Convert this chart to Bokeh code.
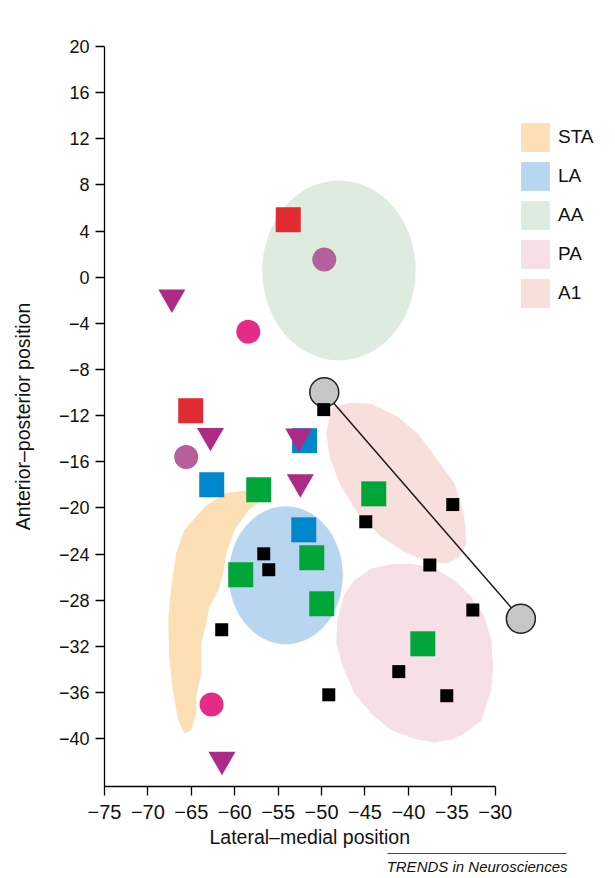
from bokeh.plotting import figure
from bokeh.models import (Range1d, FixedTicker, Legend, LegendItem, Title,
                          LinearAxis)
from bokeh.embed import file_html
from bokeh.resources import INLINE

# ---------------- axis ticks ----------------
x_ticks = [-75, -70, -65, -60, -55, -50, -45, -40, -35, -30]
x_tick_labels = ["\u221275", "\u221270", "\u221265", "\u221260", "\u221255",
                 "\u221250", "\u221245", "\u221240", "\u221235", "\u221230"]
y_ticks = [20, 16, 12, 8, 4, 0, -4, -8, -12, -16, -20, -24, -28, -32, -36, -40]
y_tick_labels = ["20", "16", "12", "8", "4", "0", "\u22124", "\u22128", "\u221212",
                 "\u221216", "\u221220", "\u221224", "\u221228", "\u221232",
                 "\u221236", "\u221240"]

# ---------------- regions ----------------
region_names = ["STA", "LA", "AA", "PA", "A1"]
region_colors = ["#FCDFB4", "#B9D6F1", "#DEEBDF", "#F6DFE6", "#F9DFDB"]

sta_x = [-58.48, -61.21, -63.51, -65.82, -66.74, -67.32, -67.66, -67.55, -67.09,
         -66.51, -65.82, -65.01, -64.44, -64.44, -63.86, -63.86, -63.28, -62.94,
         -61.90, -61.32, -60.98, -60.06, -58.44, -56.95, -56.14]
sta_y = [-18.47, -18.73, -19.95, -21.94, -23.93, -26.88, -29.74, -32.95, -36.07,
         -38.41, -39.53, -39.27, -37.80, -36.41, -34.33, -31.73, -30.00, -28.61,
         -27.14, -25.67, -23.93, -21.94, -20.21, -19.34, -18.91]

la_x, la_y, la_w, la_h = [-54.12], [-25.84], [13.13], [11.96]
aa_x, aa_y, aa_w, aa_h = [-48.0], [0.59], [17.66], [15.6]

pa_x = [-41.97, -39.67, -36.98, -34.68, -32.75, -31.22, -30.45, -30.25, -30.45,
        -31.60, -33.53, -35.06, -36.98, -39.29, -41.97, -44.27, -46.20, -47.53,
        -48.31, -48.19, -47.35, -46.20, -44.27]
pa_y = [-24.89, -24.83, -25.26, -26.27, -27.72, -29.45, -31.47, -33.79, -35.81,
        -38.41, -39.56, -40.08, -40.34, -40.00, -39.27, -37.82, -36.09, -33.79,
        -31.76, -29.74, -27.43, -26.27, -25.26]

a1_x = [-48.69, -46.58, -44.27, -41.20, -38.89, -36.59, -34.68, -33.71, -33.53,
        -33.33, -34.10, -35.44, -37.74, -40.44, -43.12, -45.81, -47.93, -49.08,
        -49.46, -49.08]
a1_y = [-11.26, -10.88, -10.96, -12.12, -13.56, -15.88, -17.89, -20.21, -21.07,
        -23.09, -24.25, -24.78, -24.69, -23.82, -22.52, -20.49, -17.89, -15.59,
        -13.56, -12.12]

# ---------------- points ----------------
red_x = [-53.84, -65.07]
red_y = [4.98, -11.57]

mag_x = [-49.69, -65.59]
mag_y = [1.54, -15.59]

pink_x = [-58.44, -62.67]
pink_y = [-4.72, -37.05]

blue_x = [-51.96, -62.65, -52.05]
blue_y = [-14.17, -18.0, -21.9]

green_x = [-57.24, -43.99, -59.31, -51.13, -49.98, -38.34]
green_y = [-18.43, -18.78, -25.8, -24.32, -28.31, -31.78]

tri_x = [-67.24, -62.8, -52.63, -52.45, -61.47]
tri_y = [-1.75, -13.74, -13.8, -17.76, -41.82]

black_x = [-49.75, -34.89, -44.91, -56.66, -56.08, -37.53, -61.5, -32.58, -41.11,
           -49.17, -35.58]
black_y = [-11.48, -19.71, -21.2, -23.98, -25.36, -24.95, -30.56, -28.85, -34.19,
           -36.2, -36.28]

gray_x = [-49.69, -27.05]
gray_y = [-9.98, -29.6]

# journal credit line with the rule above it (rule span in x units)
credit_text = "TRENDS in Neurosciences"
credit_rule = (-42.4, -21.78)

FONT = "Liberation Sans"
W, H = 615, 878

p = figure(width=W, height=H, output_backend="svg", toolbar_location=None,
           x_range=Range1d(-75, -17.3), y_range=Range1d(-44.15, 20),
           min_border_left=104, min_border_right=10, min_border_top=46,
           min_border_bottom=92)
p.outline_line_color = None
p.xgrid.visible = False
p.ygrid.visible = False
p.background_fill_color = "white"
p.border_fill_color = "white"

# regions
r_sta = p.patch(sta_x, sta_y, fill_color=region_colors[0], line_color=None)
p.ellipse(x=la_x, y=la_y, width=la_w, height=la_h, fill_color=region_colors[1], line_color=None)
p.ellipse(x=aa_x, y=aa_y, width=aa_w, height=aa_h, fill_color=region_colors[2], line_color=None)
r_pa = p.patch(pa_x, pa_y, fill_color=region_colors[3], line_color=None)
r_a1 = p.patch(a1_x, a1_y, fill_color=region_colors[4], line_color=None)
# square swatches for the elliptical regions (legend only)
r_la = p.rect(x=la_x, y=la_y, width=la_w, height=la_h, fill_color=region_colors[1],
              line_color=None, visible=False)
r_aa = p.rect(x=aa_x, y=aa_y, width=aa_w, height=aa_h, fill_color=region_colors[2],
              line_color=None, visible=False)

# connecting line and gray circles
p.line(gray_x, gray_y, line_color="#1a1a1a", line_width=1.5)
p.scatter(gray_x, gray_y, marker="circle", size=29, fill_color="#C6C6C6",
          line_color="#222222", line_width=1.5)

# markers
p.scatter(red_x, red_y, marker="square", size=25, fill_color="#E12B31", line_color=None)
p.scatter(mag_x, mag_y, marker="circle", size=24, fill_color="#B55F9B", line_color=None)
p.scatter(pink_x, pink_y, marker="circle", size=24, fill_color="#E52B86", line_color=None)
p.scatter(blue_x, blue_y, marker="square", size=25, fill_color="#0086CB", line_color=None)
p.scatter(green_x, green_y, marker="square", size=25, fill_color="#00A63A", line_color=None)
p.scatter(tri_x, tri_y, marker="inverted_triangle", size=27, fill_color="#AE2A87", line_color=None)
p.scatter(black_x, black_y, marker="square", size=13, fill_color="black", line_color=None)

# axes
for ax in (p.xaxis[0], p.yaxis[0]):
    ax.minor_tick_line_color = None
    ax.major_tick_in = 0
    ax.major_tick_out = 9
    ax.major_tick_line_width = 1.3
    ax.axis_line_width = 1.3
    ax.major_tick_line_color = "black"
    ax.axis_line_color = "black"
    ax.major_label_text_font = FONT
    ax.major_label_text_color = "#111111"
    ax.axis_label_text_font = FONT
    ax.axis_label_text_font_size = "19.5px"
    ax.axis_label_text_font_style = "normal"
    ax.axis_label_text_color = "#111111"

p.xaxis.ticker = FixedTicker(ticks=x_ticks)
p.xaxis.major_label_overrides = dict(zip(x_ticks, x_tick_labels))
p.xaxis.bounds = (-75, -30)
p.xaxis.major_label_text_font_size = "20px"
p.xaxis.major_label_standoff = 9

p.yaxis.ticker = FixedTicker(ticks=y_ticks)
p.yaxis.major_label_overrides = dict(zip(y_ticks, y_tick_labels))
p.yaxis.major_label_text_font_size = "18px"
p.yaxis.axis_label = "Anterior\u2013posterior position"
p.yaxis.major_label_standoff = 6
p.yaxis.axis_label_standoff = 22

# x-axis title, centred under the -75..-30 span like the original
p.add_layout(Title(text="Lateral\u2013medial position", align="left", offset=105,
                   vertical_align="top", standoff=8, text_font=FONT,
                   text_font_size="19.5px", text_font_style="normal",
                   text_color="#111111"), "below")

# rule with the journal credit centred beneath it
credit_mid = (credit_rule[0] + credit_rule[1]) / 2
rule = LinearAxis(bounds=credit_rule, ticker=FixedTicker(ticks=[credit_mid]),
                  major_label_overrides={credit_mid: credit_text},
                  major_tick_out=0, major_tick_in=0, minor_tick_out=0,
                  minor_tick_in=0, major_tick_line_color=None,
                  minor_tick_line_color=None, major_label_standoff=4,
                  major_label_text_font=FONT, major_label_text_font_size="15px",
                  major_label_text_font_style="italic",
                  major_label_text_color="#111111",
                  axis_line_color="#444444", axis_line_width=1)
p.add_layout(rule, "below")

# legend (square swatches)
legend = Legend(items=[LegendItem(label=n, renderers=[r]) for n, r in
                       zip(region_names, [r_sta, r_la, r_aa, r_pa, r_a1])],
                location=(413, 475))
legend.glyph_width = 36
legend.glyph_height = 36
legend.label_standoff = 5
legend.spacing = 3
legend.padding = 0
legend.margin = 0
legend.border_line_alpha = 0
legend.background_fill_alpha = 0
legend.label_text_font = FONT
legend.label_text_font_size = "19px"
legend.label_text_color = "#111111"
p.add_layout(legend)

open("out.html", "w").write(file_html(p, INLINE))
